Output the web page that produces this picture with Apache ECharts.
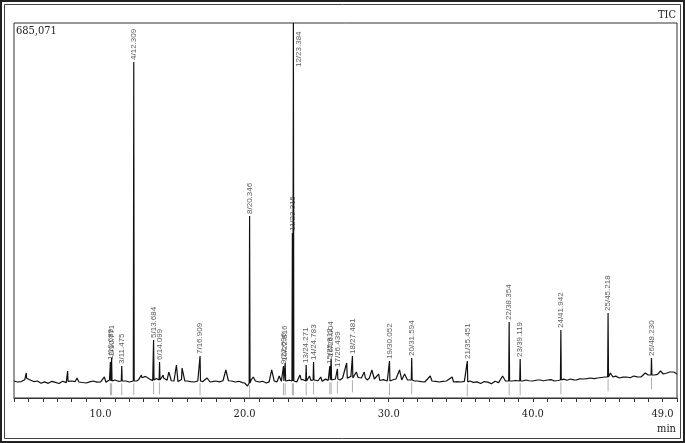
<!DOCTYPE html>
<html>
<head>
<meta charset="utf-8">
<title>TIC</title>
<script src="https://cdn.jsdelivr.net/npm/echarts@6/dist/echarts.min.js"></script>
<style>
html,body{margin:0;padding:0;background:#fff}
#container{width:685px;height:443px}
</style>
</head>
<body>
<div id="container"></div>
<script>
// 保留时间(min), 强度(千counts) —— 基线和小峰
var baseline = [
	[4.0,31.1],[4.25,29.2],[4.5,30.0],[4.75,33.5],[4.85,45.7],[5.0,34.7],[5.25,31.5],[5.5,29.2],[5.75,28.0],
	[6.0,27.4],[6.25,28.5],[6.5,29.2],[6.75,27.8],[7.0,27.4],[7.25,28.6],[7.5,29.2],[7.72,49.3],[7.75,30.5],
	[8.0,31.1],[8.25,30.0],[8.37,36.5],[8.5,29.2],[8.75,28.3],[9.0,27.4],[9.25,29.5],[9.5,31.1],[9.75,29.0],
	[10.0,29.2],[10.27,38.4],[10.5,31.1],[11.0,32.9],[11.25,30.5],[11.75,31.1],[12.0,29.2],[12.5,31.1],
	[12.65,33.5],[12.84,42.0],[13.0,38.4],[13.2,36.0],[13.4,33.5],[13.85,32.9],[14.0,34.0],[14.2,33.0],
	[14.35,42.0],[14.5,34.7],[14.74,47.5],[14.9,31.5],[15.1,31.1],[15.27,60.3],[15.45,32.9],[15.66,54.8],
	[15.85,31.1],[16.0,31.1],[16.25,29.8],[16.5,29.2],[16.75,31.1],[17.1,30.0],[17.4,36.5],[17.6,29.2],
	[17.85,30.5],[18.0,31.1],[18.25,29.5],[18.5,31.5],[18.7,51.2],[18.9,30.0],[19.1,31.1],[19.35,29.2],
	[19.6,30.5],[19.85,28.0],[20.0,27.4],[20.2,21.9],[20.45,33.0],[20.6,38.4],[20.75,31.1],[21.0,29.2],
	[21.25,30.5],[21.5,27.4],[21.7,29.5],[21.88,51.2],[22.05,31.1],[22.25,29.5],[22.4,40.2],[22.55,30.5],
	[22.95,31.1],[23.15,30.0],[23.55,31.1],[23.7,32.0],[23.84,42.0],[24.0,32.9],[24.15,31.5],[24.4,31.1],
	[24.5,40.2],[24.6,32.0],[24.95,32.9],[25.1,31.5],[25.28,38.4],[25.45,31.1],[25.65,32.9],[25.8,32.0],
	[26.15,36.0],[26.3,34.7],[26.6,34.7],[26.8,36.5],[27.08,63.9],[27.25,38.4],[27.6,36.0],[27.75,47.5],
	[27.9,35.5],[28.1,36.5],[28.3,47.5],[28.5,32.9],[28.65,36.0],[28.83,51.2],[29.0,34.7],[29.3,43.8],
	[29.5,31.1],[29.75,32.0],[29.9,31.1],[30.25,32.9],[30.5,34.7],[30.75,51.2],[30.9,33.0],[31.1,43.8],
	[31.3,32.9],[31.8,31.1],[32.0,31.1],[32.25,30.0],[32.5,29.2],[32.88,40.2],[33.0,31.1],[33.25,30.5],
	[33.5,29.2],[33.75,30.5],[34.0,31.1],[34.4,38.4],[34.5,29.2],[34.75,30.0],[35.0,29.2],[35.25,30.5],
	[35.7,29.2],[36.0,27.4],[36.25,28.6],[36.5,29.2],[36.75,28.0],[37.0,27.4],[37.25,29.0],[37.5,29.2],
	[37.75,30.5],[37.9,40.2],[38.1,31.1],[38.55,31.1],[38.8,32.0],[39.3,31.1],[39.5,32.9],[39.75,31.5],
	[40.0,31.1],[40.12,34.7],[40.3,32.9],[40.5,32.9],[40.75,31.5],[41.0,32.9],[41.25,33.5],[41.5,31.1],
	[41.75,32.0],[42.15,32.9],[42.4,34.0],[42.6,34.7],[42.85,33.0],[43.0,32.9],[43.25,35.0],[43.5,34.7],
	[43.75,35.5],[44.0,36.5],[44.25,35.5],[44.5,36.5],[44.75,37.5],[45.0,38.4],[45.38,45.7],[45.55,38.4],
	[45.75,40.0],[46.0,36.5],[46.25,38.0],[46.5,38.4],[46.75,37.0],[47.0,40.2],[47.25,38.5],[47.5,38.4],
	[47.8,45.7],[48.0,42.0],[48.45,42.0],[48.65,43.0],[48.86,49.3],[49.05,43.8],[49.3,45.7],[49.5,47.5],
	[49.77,47.5],[50.0,43.8]
];

// 基线上的细小噪声点
var noise = [
	[4.125,32.5],[4.375,28.0],[4.625,31.5],[4.875,36.0],[5.125,33.0],[5.375,30.0],[5.625,31.0],[5.875,27.0],
	[6.125,29.5],[6.375,26.8],[6.625,30.5],[6.875,28.5],[7.125,26.5],[7.375,30.5],[7.625,28.0],[7.875,31.5],
	[8.125,28.5],[8.625,30.5],[8.875,26.8],[9.125,30.0],[9.375,28.0],[9.625,32.0],[9.875,27.5],
	[10.125,31.0],[10.375,29.0],[10.625,33.0],[10.875,30.0],[11.125,33.5],[11.375,29.5],[11.625,32.5],[11.875,30.0],
	[12.125,31.5],[12.375,33.0],[12.625,30.0],[12.875,37.0],[13.125,39.5],[13.375,35.0],[13.625,31.5],[13.875,35.5],
	[14.375,36.5],[14.625,32.5],[14.875,35.5],[15.125,33.5],[15.375,30.0],[15.625,34.0],[15.875,32.5],
	[16.125,28.5],[16.375,31.5],[16.625,28.0],[17.125,32.0],[17.625,31.0],[17.875,28.5],
	[18.125,32.5],[18.375,28.0],[18.625,33.0],[18.875,31.5],[19.125,29.0],[19.375,31.5],[19.625,28.5],[19.875,29.5],
	[20.125,25.0],[20.875,29.0],[21.125,32.0],[21.375,28.5],[21.625,31.0],[22.125,32.0],[22.625,33.0],[22.875,29.5],
	[23.125,32.5],[23.625,29.5],[23.925,33.5],[24.075,33.5],[24.375,33.0],[24.625,30.5],[24.875,34.5],
	[25.125,33.5],[25.375,30.5],[25.625,34.5],[26.125,33.5],[26.375,37.0],[26.625,33.0],[26.875,38.0],
	[27.125,36.0],[27.375,39.5],[27.875,37.5],[28.125,34.5],[28.375,37.0],[28.625,34.0],
	[29.125,36.0],[29.375,32.0],[29.625,33.5],[30.125,34.0],[30.375,31.5],[30.625,36.0],
	[31.375,34.5],[31.875,33.0],[32.125,29.0],[32.375,31.5],[32.625,30.5],
	[33.125,29.0],[33.375,31.5],[33.625,28.0],[33.875,32.0],[34.125,29.5],[34.625,31.0],[34.875,28.0],
	[35.125,31.5],[35.375,29.0],[35.625,31.0],[35.875,28.5],[36.125,29.5],[36.375,26.5],[36.625,30.0],[36.875,29.0],
	[37.125,26.0],[37.375,30.5],[37.625,28.0],[38.625,32.5],[38.875,30.0],[39.375,33.0],[39.625,30.0],[39.875,33.0],
	[40.375,31.0],[40.625,34.5],[40.875,31.0],[41.125,34.5],[41.375,31.5],[41.625,33.5],[41.875,31.0],
	[42.125,34.5],[42.375,32.5],[42.625,36.0],[42.875,34.5],[43.125,31.5],[43.375,36.5],[43.625,33.5],[43.875,37.5],
	[44.125,34.5],[44.375,38.0],[44.625,35.0],[44.875,39.5],[45.125,36.5],[45.625,41.5],[45.875,38.0],
	[46.125,39.5],[46.375,36.0],[46.625,39.5],[46.875,38.5],[47.125,41.5],[47.375,37.5],[47.625,40.5],[47.875,43.5],
	[48.125,40.5],[48.375,44.0],[49.125,45.0],[49.375,43.5],[49.625,46.5],[49.875,45.0]
];

// 标注的峰: 编号/保留时间, 峰高, 峰底
var peakNames = ['1/10.689','2/10.771','3/11.475','4/12.309','5/13.684','6/14.099','7/16.909','8/20.346',
	'9/22.696','10/22.816','11/23.315','12/23.384','13/24.271','14/24.783','15/25.912','16/26.004',
	'17/26.439','18/27.481','19/30.052','20/31.594','21/35.451','22/38.354','23/39.119','24/41.942',
	'25/45.218','26/48.230'];
var peakTimes = [10.689,10.771,11.475,12.309,13.684,14.099,16.909,20.346,22.696,22.816,23.315,23.384,
	24.271,24.783,25.912,26.004,26.439,27.481,30.052,31.594,35.451,38.354,39.119,41.942,45.218,48.230];
var peakHeights = [65.8,73.1,58.5,613.9,106.0,65.8,76.7,332.5,58.5,63.9,301.5,685.0,
	60.3,65.8,58.5,71.3,53.0,76.7,67.6,73.1,67.6,138.9,71.3,124.2,155.3,73.1];
var peakBases = [31.1,31.1,31.1,31.1,32.9,32.9,31.1,27.4,31.1,31.1,31.1,31.1,
	31.1,32.9,32.9,32.9,34.7,36.5,31.1,32.9,29.2,31.1,31.1,32.9,38.4,42.0];

var maxCount = 685.071;
var xTickLabels = [10, 20, 30, 40, 49];

var serifFont = "'DejaVu Serif Condensed', 'Liberation Serif', serif";

function buildSignal(){
	var pts = baseline.concat(noise);
	for (var i = 0; i < peakTimes.length; i++) {
		pts.push([peakTimes[i] - 0.03, peakBases[i]]);
		pts.push([peakTimes[i], peakHeights[i]]);
		pts.push([peakTimes[i] + 0.03, peakBases[i]]);
	}
	pts.sort(function (a, b) { return a[0] - b[0]; });
	return pts;
}

function drawTIC(){
	var myChart = echarts.init(document.getElementById('container'));

	var labelData = peakTimes.map(function (t, i) {
		var item = { name: peakNames[i], value: [t, peakHeights[i]] };
		if (i === 11) {
			// 主峰超出顶部, 标签放在峰线右侧
			item.label = { position: [5, 44] };
		}
		return item;
	});

	var option = {
		animation: false,
		grid: {
			left: 14, right: 8, top: 23, bottom: 45,
			show: true, borderColor: '#333', borderWidth: 1
		},
		xAxis: {
			type: 'value',
			min: 4, max: 50, interval: 1,
			axisLine: { lineStyle: { color: '#333', width: 1 } },
			axisTick: { length: 4, lineStyle: { color: '#333' } },
			splitLine: { show: false },
			axisLabel: {
				margin: 11,
				fontFamily: serifFont, fontSize: 11, color: '#222',
				formatter: function (v) {
					return xTickLabels.indexOf(v) >= 0 ? v.toFixed(1) : '';
				}
			}
		},
		yAxis: {
			type: 'value', min: 0, max: maxCount, show: false,
			splitLine: { show: false }
		},
		graphic: [
			{ type: 'rect', shape: { x: 1, y: 1, width: 683, height: 441 },
				style: { fill: 'none', stroke: '#222', lineWidth: 2 } },
			{ type: 'rect', shape: { x: 4.5, y: 4.5, width: 676, height: 434 },
				style: { fill: 'none', stroke: '#444', lineWidth: 1 } },
			{ type: 'text', left: 16, top: 26,
				style: { text: '685,071', font: '11px ' + serifFont, fill: '#222' } },
			{ type: 'text', right: 9, top: 10,
				style: { text: 'TIC', font: '11px ' + serifFont, fill: '#222' } },
			{ type: 'text', right: 9, top: 424,
				style: { text: 'min', font: '11px ' + serifFont, fill: '#222' } }
		],
		series: [{
			type: 'scatter',
			symbol: 'rect',
			symbolSize: [1, 12],
			itemStyle: { color: '#9a9a9a' },
			z: 1,
			silent: true,
			data: peakTimes.map(function (t, i) { return [t, peakBases[i] - 15]; })
		}, {
			type: 'line',
			showSymbol: false,
			symbol: 'none',
			clip: true,
			z: 2,
			lineStyle: { color: '#111', width: 1.2 },
			data: buildSignal()
		}, {
			type: 'scatter',
			symbolSize: 0,
			z: 3,
			silent: true,
			label: {
				show: true,
				position: 'top',
				distance: 2,
				rotate: 90,
				align: 'left',
				verticalAlign: 'middle',
				fontFamily: "'Liberation Sans', sans-serif",
				fontSize: 8,
				color: '#333',
				formatter: '{b}'
			},
			data: labelData
		}]
	};
	myChart.setOption(option, true);
}

window.onload = drawTIC;
</script>
</body>
</html>
